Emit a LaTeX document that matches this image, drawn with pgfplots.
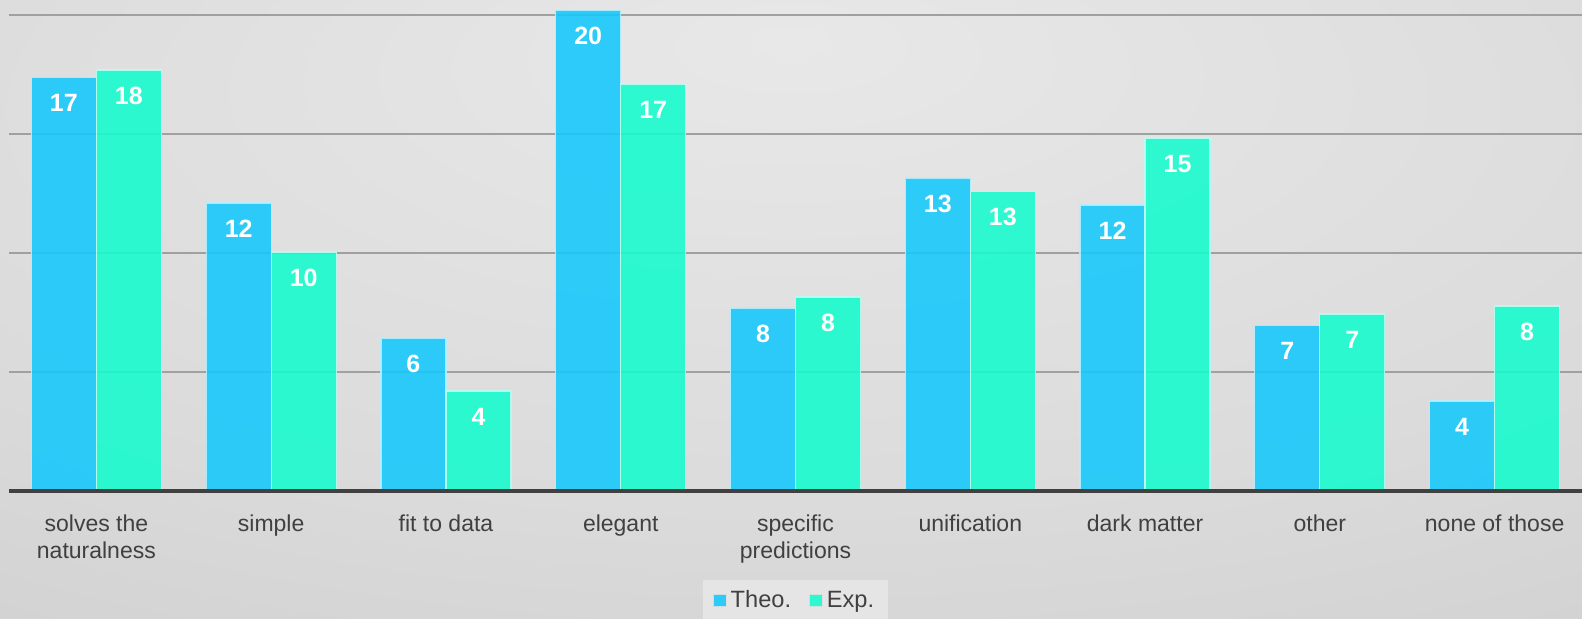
\documentclass[border=0pt]{standalone}
\usepackage{fontspec}
\setmainfont{Liberation Sans}
\usepackage{pgfplots}
\pgfplotsset{compat=1.18}
\definecolor{theo}{RGB}{20,200,252}
\definecolor{expc}{RGB}{20,252,206}
\definecolor{txt}{RGB}{64,64,64}
\definecolor{grid}{RGB}{160,160,160}
\pgfdeclareradialshading{bgshade}{\pgfpoint{0bp}{22bp}}{color(0bp)=(black!9); color(30bp)=(black!14); color(90bp)=(black!28)}
\begin{document}
\begin{tikzpicture}
\shade[shading=bgshade] (0,0) rectangle (791pt,309.5pt);
\useasboundingbox (0,0) rectangle (791pt,309.5pt);
\begin{axis}[
  at={(4.5pt,64pt)}, anchor=south west,
  scale only axis, width=786.5pt, height=245.5pt,
  clip=false,
  ybar=0pt, bar width=32.5pt,
  xmin=-0.5, xmax=8.5, ymin=0, ymax=20.63,
  xtick=data,
  xticklabels={{solves the\\naturalness},simple,fit to data,elegant,{specific\\predictions},unification,dark matter,other,none of those},
  xticklabel style={align=center, font=\fontsize{11.5}{13.5}\selectfont, text=txt, yshift=-8.5pt},
  ytick={5,10,15,20}, yticklabels={},
  xmajorgrids=false, ymajorgrids=true,
  y grid style={grid, line width=1.1pt},
  major tick length=0pt,
  axis line style={draw=none},
  axis background/.style={fill=none},
  nodes near coords={\textbf{\pgfmathprintnumber[fixed,precision=0,assume math mode=true]{\pgfplotspointmeta}}},
  every node near coord/.append style={anchor=north, text=white, font=\bfseries\fontsize{12.5}{14}\selectfont, yshift=-5pt},
  legend columns=2,
  legend style={at={(0.5,0)}, anchor=north, yshift=-44.5pt, draw=none, fill=black!10, font=\fontsize{11.8}{13.5}\selectfont, text=txt, inner xsep=5pt, inner ysep=3pt, /tikz/every even column/.append style={column sep=7pt}},
  legend image code/.code={\draw[#1, draw=white!75!gray, line width=0.4pt] (0pt,-3.2pt) rectangle (6.5pt,3.2pt);},
]
\addplot[fill=theo, fill opacity=0.88, text opacity=1, draw=white!70!theo, draw opacity=0.9, line width=0.6pt] coordinates {(0,17.39) (1,12.1) (2,6.43) (3,20.2) (4,7.69) (5,13.15) (6,12.02) (7,6.97) (8,3.78)};
\addplot[fill=expc, fill opacity=0.88, text opacity=1, draw=white!70!expc, draw opacity=0.9, line width=0.6pt] coordinates {(0,17.69) (1,10.04) (2,4.2) (3,17.1) (4,8.15) (5,12.6) (6,14.83) (7,7.44) (8,7.77)};
\legend{Theo.,Exp.}
\draw[txt, line width=1.8pt] (axis cs:-0.5,0) -- (axis cs:8.5,0);
\end{axis}
\end{tikzpicture}
\end{document}
